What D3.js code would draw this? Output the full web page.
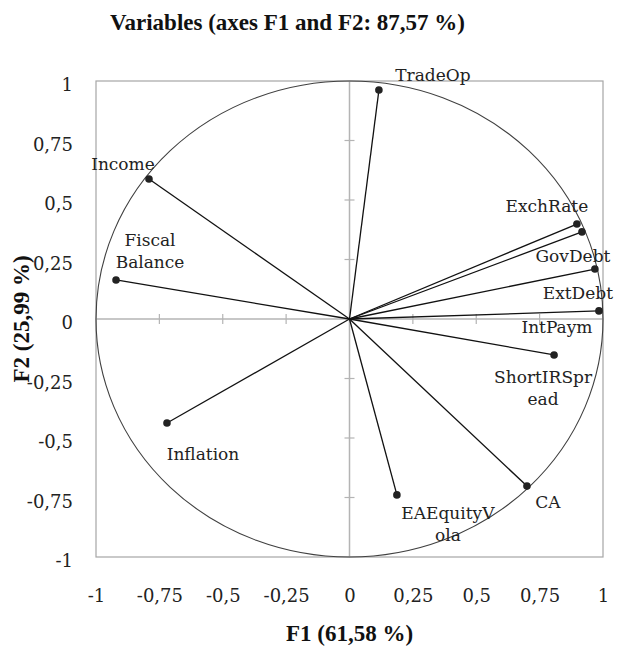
<!DOCTYPE html>
<html>
<head>
<meta charset="utf-8">
<script src="https://cdn.jsdelivr.net/npm/d3@7"></script>
<style>
  html, body { margin: 0; padding: 0; background: #fff; }
</style>
</head>
<body>
<div id="chart"></div>
<script>
// Correlation circle data (loadings on F1 / F2)
const variables = ["TradeOp", "Income", "Fiscal Balance", "ExchRate", "GovDebt", "ExtDebt",
                   "IntPaym", "ShortIRSpread", "Inflation", "EAEquityVola", "CA"];
const f1 = [0.116, -0.791, -0.921, 0.897, 0.917, 0.968, 0.984, 0.807, -0.720, 0.187, 0.700];
const f2 = [0.962, 0.588, 0.164, 0.399, 0.366, 0.210, 0.034, -0.151, -0.437, -0.739, -0.702];
// labels as they wrap in the picture
const labelLines = [["TradeOp"], ["Income"], ["Fiscal", "Balance"], ["ExchRate"], ["GovDebt"], ["ExtDebt"],
                    ["IntPaym"], ["ShortIRSpr", "ead"], ["Inflation"], ["EAEquityV", "ola"], ["CA"]];
const tickValues = [-1, -0.75, -0.5, -0.25, 0, 0.25, 0.5, 0.75, 1];
const title = "Variables (axes F1 and F2: 87,57 %)";
const xTitle = "F1 (61,58 %)";
const yTitle = "F2 (25,99 %)";

const width = 620, height = 646;
const margin = { top: 81, right: 17, bottom: 89, left: 96 };

// label offsets in px from the point (centre x, first baseline)
const labelOffsets = [[54, -9], [-26, -9], [34, -34], [-30, -12], [-9, 30], [-17, 30],
                      [-42, 22], [-11, 28], [36, 37], [51, 24], [21, 22]];

const svg = d3.select("#chart")
    .append("svg")
    .attr("width", width)
    .attr("height", height);

const x = d3.scaleLinear().domain([-1, 1]).range([margin.left, width - margin.right]);
const y = d3.scaleLinear().domain([-1, 1]).range([height - margin.bottom, margin.top]);

const fmt = d => String(d).replace(".", ",");
const serif = "'DejaVu Serif', serif";
const titleFont = "'Liberation Serif', 'Times New Roman', serif";

// plot box
svg.append("rect")
    .attr("x", x(-1))
    .attr("y", y(1))
    .attr("width", x(1) - x(-1))
    .attr("height", y(-1) - y(1))
    .attr("fill", "none")
    .attr("stroke", "#a6a6a6")
    .attr("stroke-width", 1.2);

// center axes
svg.append("line")
    .attr("x1", x(-1)).attr("x2", x(1))
    .attr("y1", y(0)).attr("y2", y(0))
    .attr("stroke", "#b4b4b4").attr("stroke-width", 1.5);
svg.append("line")
    .attr("x1", x(0)).attr("x2", x(0))
    .attr("y1", y(-1)).attr("y2", y(1))
    .attr("stroke", "#b4b4b4").attr("stroke-width", 1.5);

// tick marks on center axes
const inner = tickValues.filter(v => v !== 0 && Math.abs(v) !== 1);
svg.append("g").selectAll("line")
    .data(inner)
    .enter().append("line")
    .attr("x1", d => x(d)).attr("x2", d => x(d))
    .attr("y1", y(0) - 5).attr("y2", y(0) + 5)
    .attr("stroke", "#b4b4b4").attr("stroke-width", 1.2);
svg.append("g").selectAll("line")
    .data(inner)
    .enter().append("line")
    .attr("y1", d => y(d)).attr("y2", d => y(d))
    .attr("x1", x(0) - 5).attr("x2", x(0) + 5)
    .attr("stroke", "#b4b4b4").attr("stroke-width", 1.2);

// unit circle
svg.append("ellipse")
    .attr("cx", x(0))
    .attr("cy", y(0))
    .attr("rx", x(1) - x(0))
    .attr("ry", y(0) - y(1))
    .attr("fill", "none")
    .attr("stroke", "#404040")
    .attr("stroke-width", 1.1);

// tick labels
const xAxis = svg.append("g")
    .attr("transform", "translate(0," + y(-1) + ")")
    .call(d3.axisBottom(x).tickValues(tickValues).tickSize(0).tickPadding(32).tickFormat(fmt));
const yAxis = svg.append("g")
    .attr("transform", "translate(" + (x(-1) - 23) + ",0)")
    .call(d3.axisLeft(y).tickValues(tickValues).tickSize(0).tickPadding(0).tickFormat(fmt));
[xAxis, yAxis].forEach(g => {
    g.select(".domain").remove();
    g.selectAll("text")
        .style("font-family", serif)
        .style("font-size", "18px")
        .attr("fill", "#222");
});
yAxis.selectAll("text").attr("dy", "0.55em");

// vectors
const data = variables.map((v, i) => ({ name: v, f1: f1[i], f2: f2[i], lines: labelLines[i], off: labelOffsets[i] }));

svg.append("g").selectAll("line")
    .data(data)
    .enter().append("line")
    .attr("x1", x(0)).attr("y1", y(0))
    .attr("x2", d => x(d.f1)).attr("y2", d => y(d.f2))
    .attr("stroke", "#111")
    .attr("stroke-width", 1.3);

svg.append("g").selectAll("circle")
    .data(data)
    .enter().append("circle")
    .attr("cx", d => x(d.f1))
    .attr("cy", d => y(d.f2))
    .attr("r", 3.8)
    .attr("fill", "#222");

// variable labels
const labels = svg.append("g").selectAll("text")
    .data(data)
    .enter().append("text")
    .attr("text-anchor", "middle")
    .style("font-family", serif)
    .style("font-size", "17px")
    .attr("fill", "#222")
    .attr("x", d => x(d.f1) + d.off[0])
    .attr("y", d => y(d.f2) + d.off[1]);
labels.each(function (d) {
    d3.select(this).selectAll("tspan")
        .data(d.lines)
        .enter().append("tspan")
        .attr("x", x(d.f1) + d.off[0])
        .attr("dy", (t, j) => j === 0 ? 0 : 22)
        .text(t => t);
});

// titles
svg.append("text")
    .attr("x", 110)
    .attr("y", 30)
    .style("font-family", titleFont)
    .style("font-size", "23px")
    .style("font-weight", "bold")
    .attr("fill", "#111")
    .text(title);

svg.append("text")
    .attr("x", x(0))
    .attr("y", 641)
    .attr("text-anchor", "middle")
    .style("font-family", titleFont)
    .style("font-size", "23px")
    .style("font-weight", "bold")
    .attr("fill", "#111")
    .text(xTitle);

svg.append("text")
    .attr("transform", "translate(29," + y(0) + ") rotate(-90)")
    .attr("text-anchor", "middle")
    .style("font-family", titleFont)
    .style("font-size", "23px")
    .style("font-weight", "bold")
    .attr("fill", "#111")
    .text(yTitle);
</script>
</body>
</html>
